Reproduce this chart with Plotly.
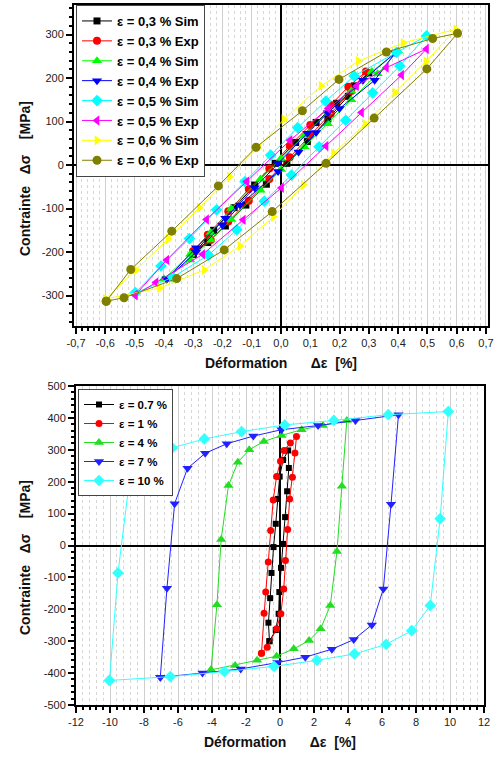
import plotly.graph_objects as go

# ---------------- upper panel : stabilised loops, 0.3 - 0.6 % ----------------
# each loop: from the compressive peak along the upper branch to the tensile
# peak, then back along the lower branch
e03_sim_x = [-0.30, -0.23, -0.16, -0.09, -0.02, 0.05, 0.12, 0.19, 0.25, 0.30,
             0.23, 0.16, 0.09, 0.02, -0.05, -0.12, -0.19, -0.25, -0.30]
e03_sim_y = [-205, -150, -98, -46, 4, 52, 98, 142, 182, 212,
             158, 106, 54, 4, -44, -92, -140, -178, -205]

e03_exp_x = [-0.30, -0.25, -0.18, -0.11, -0.04, 0.03, 0.10, 0.17, 0.23, 0.29,
             0.24, 0.17, 0.10, 0.03, -0.04, -0.11, -0.18, -0.24, -0.30]
e03_exp_y = [-198, -160, -106, -55, -8, 44, 92, 138, 180, 215,
             170, 118, 68, 18, -32, -82, -130, -172, -198]

e04_sim_x = [-0.40, -0.31, -0.24, -0.17, -0.07, 0.00, 0.08, 0.16, 0.24, 0.31, 0.40,
             0.33, 0.24, 0.16, 0.08, 0.00, -0.07, -0.17, -0.24, -0.31, -0.40]
e04_sim_y = [-262, -205, -155, -100, -32, 15, 68, 122, 170, 215, 262,
             210, 150, 95, 42, -10, -58, -125, -172, -218, -262]

e04_exp_x = [-0.39, -0.29, -0.19, -0.09, -0.01, 0.09, 0.16, 0.28, 0.39,
             0.32, 0.20, 0.12, 0.06, -0.01, -0.14, -0.20, -0.29, -0.39]
e04_exp_y = [-262, -190, -122, -52, 5, 73, 120, 195, 258,
             195, 130, 75, 30, -15, -92, -138, -200, -262]

e05_sim_x = [-0.498, -0.41, -0.313, -0.22, -0.123, -0.035, 0.057, 0.153, 0.25, 0.395, 0.497,
             0.406, 0.313, 0.221, 0.13, 0.036, -0.057, -0.151, -0.248, -0.37, -0.498]
e05_sim_y = [-294, -232, -169, -103, -38, 23, 86, 147, 205, 259, 297,
             228, 166, 103, 42, -23, -83, -149, -207, -258, -294]

e05_exp_x = [-0.498, -0.39, -0.254, -0.117, 0.031, 0.161, 0.258, 0.36, 0.497,
             0.412, 0.275, 0.154, 0.002, -0.129, -0.267, -0.427, -0.498]
e05_exp_y = [-299, -218, -125, -38, 57, 130, 182, 224, 267,
             207, 121, 44, -52, -126, -205, -270, -299]

e06_sim_x = [-0.60, -0.495, -0.385, -0.279, -0.176, -0.08, 0.01, 0.137, 0.264, 0.417, 0.597,
             0.495, 0.389, 0.287, 0.179, 0.076, -0.026, -0.14, -0.262, -0.415, -0.60]
e06_sim_y = [-308, -241, -170, -98, -27, 40, 105, 182, 239, 281, 312,
             238, 167, 94, 27, -46, -119, -186, -241, -283, -308]

e06_exp_x = [-0.597, -0.513, -0.373, -0.214, -0.085, 0.073, 0.198, 0.36, 0.518, 0.603,
             0.498, 0.318, 0.154, -0.03, -0.194, -0.356, -0.536, -0.597]
e06_exp_y = [-313, -240, -152, -48, 41, 125, 197, 260, 291, 303,
             221, 108, 4, -107, -195, -261, -305, -313]

# ---------------- lower panel : loops at 0.7 - 10 % ----------------
e07_x = [-0.62, -0.68, -0.58, -0.50, -0.38, -0.25, -0.12, -0.02, 0.18, 0.48,
         0.52, 0.42, 0.30, 0.18, 0.06, -0.04, -0.08, -0.25, -0.62]
e07_y = [-300, -242, -165, -86, -5, 68, 146, 216, 268, 298,
         243, 170, 89, 5, -70, -146, -214, -265, -300]

e1_x = [-1.09, -0.94, -0.84, -0.69, -0.55, -0.40, -0.20, 0.03, 0.24, 0.61, 0.97,
        0.88, 0.73, 0.57, 0.45, 0.32, 0.22, 0.05, -0.20, -0.75, -1.09]
e1_y = [-338, -212, -146, -52, 47, 143, 216, 264, 298, 321, 342,
        290, 214, 146, 50, -47, -136, -214, -261, -319, -338]

e4_x = [-4.06, -3.71, -3.46, -3.03, -2.48, -1.81, -0.95, 0.09, 1.27, 2.53, 3.93,
        3.64, 3.35, 2.96, 2.39, 1.71, 0.81, -0.20, -1.35, -2.64, -4.06]
e4_y = [-390, -186, 19, 188, 261, 300, 326, 345, 363, 376, 392,
        186, -19, -188, -261, -298, -324, -347, -360, -376, -390]

e7_x = [-7.04, -6.65, -6.20, -5.44, -4.40, -3.13, -1.57, 0.09, 2.24, 4.44, 6.97,
        6.53, 6.08, 5.40, 4.34, 3.05, 1.49, -0.15, -2.31, -4.56, -7.04]
e7_y = [-413, -134, 131, 242, 289, 319, 343, 363, 376, 392, 410,
        129, -136, -249, -295, -325, -350, -367, -387, -400, -413]

e10_x = [-10.03, -9.53, -8.90, -7.75, -6.34, -4.45, -2.26, 0.28, 3.17, 6.37, 9.90,
         9.42, 8.84, 7.75, 6.24, 4.38, 2.17, -0.35, -3.27, -6.45, -10.03]
e10_y = [-423, -86, 185, 265, 306, 334, 357, 378, 392, 410, 420,
         84, -188, -267, -310, -340, -360, -379, -395, -411, -423]

# ---------------- tick labels ----------------
top_x_ticks = [-0.7, -0.6, -0.5, -0.4, -0.3, -0.2, -0.1, 0.0, 0.1, 0.2, 0.3, 0.4, 0.5, 0.6, 0.7]
top_x_labels = ["-0,7", "-0,6", "-0,5", "-0,4", "-0,3", "-0,2", "-0,1", "0,0",
                "0,1", "0,2", "0,3", "0,4", "0,5", "0,6", "0,7"]
top_y_ticks = [-300, -200, -100, 0, 100, 200, 300]
top_y_labels = ["-300", "-200", "-100", "0", "100", "200", "300"]
bot_x_ticks = [-12, -10, -8, -6, -4, -2, 0, 2, 4, 6, 8, 10, 12]
bot_x_labels = ["-12", "-10", "-8", "-6", "-4", "-2", "0", "2", "4", "6", "8", "10", "12"]
bot_y_ticks = [-500, -400, -300, -200, -100, 0, 100, 200, 300, 400, 500]
bot_y_labels = ["-500", "-400", "-300", "-200", "-100", "0", "100", "200", "300", "400", "500"]

W, H = 497, 758
FONT = "Liberation Sans, Arial, sans-serif"

top_series = [
    ("ε = 0,3 % Sim", e03_sim_x, e03_sim_y, "#000000", "square", 7),
    ("ε = 0,3 % Exp", e03_exp_x, e03_exp_y, "#ff0000", "circle", 8),
    ("ε = 0,4 % Sim", e04_sim_x, e04_sim_y, "#00ff00", "triangle-up", 9),
    ("ε = 0,4 % Exp", e04_exp_x, e04_exp_y, "#0000ff", "triangle-down", 9),
    ("ε = 0,5 % Sim", e05_sim_x, e05_sim_y, "#00ffff", "diamond", 9),
    ("ε = 0,5 % Exp", e05_exp_x, e05_exp_y, "#ff00ff", "triangle-left", 9),
    ("ε = 0,6 % Sim", e06_sim_x, e06_sim_y, "#ffff00", "triangle-right", 9),
    ("ε = 0,6 % Exp", e06_exp_x, e06_exp_y, "#808000", "circle", 9),
]

bottom_series = [
    ("ε = 0.7 %", e07_x, e07_y, "#000000", "square", 6),
    ("ε = 1 %", e1_x, e1_y, "#ff0000", "circle", 7),
    ("ε = 4 %", e4_x, e4_y, "#22dd22", "triangle-up", 9),
    ("ε = 7 %", e7_x, e7_y, "#2222ff", "triangle-down", 9),
    ("ε = 10 %", e10_x, e10_y, "#33ffff", "diamond", 9),
]

fig = go.Figure()

for name, xs, ys, col, sym, sz in top_series:
    fig.add_trace(go.Scatter(
        x=xs, y=ys, name=name, mode="lines+markers",
        line=dict(color=col, width=1),
        marker=dict(color=col, symbol=sym, size=sz),
        xaxis="x", yaxis="y", legend="legend"))

for name, xs, ys, col, sym, sz in bottom_series:
    fig.add_trace(go.Scatter(
        x=xs, y=ys, name=name, mode="lines+markers",
        line=dict(color=col, width=1),
        marker=dict(color=col, symbol=sym, size=sz),
        xaxis="x2", yaxis="y2", legend="legend2"))

tickfont = dict(family=FONT, size=11, color="#222222")
titlefont = dict(family=FONT, size=14, color="#111111", weight="bold")


def xaxis_style(ticks, labels, rng, dom, minor_dt, anchor, title):
    return dict(
        domain=dom, range=rng, anchor=anchor, automargin=False,
        tickmode="array", tickvals=ticks, ticktext=labels, tickfont=tickfont,
        ticks="outside", ticklen=6, tickwidth=2, tickcolor="black",
        showline=True, mirror=True, linewidth=2, linecolor="black",
        showgrid=True, gridcolor="#cfcfcf", gridwidth=1,
        zeroline=True, zerolinecolor="black", zerolinewidth=2,
        minor=dict(dtick=minor_dt, ticks="outside", ticklen=3, tickwidth=2,
                   tickcolor="black", showgrid=True, gridcolor="#d6d6d6",
                   griddash="dot", gridwidth=1),
        title=dict(text=title, font=titlefont, standoff=10),
    )


def yaxis_style(ticks, labels, rng, dom, minor_dt, anchor):
    return dict(
        domain=dom, range=rng, anchor=anchor, automargin=False,
        tickmode="array", tickvals=ticks, ticktext=labels, tickfont=tickfont,
        ticks="outside", ticklen=6, tickwidth=2, tickcolor="black",
        showline=True, mirror=True, linewidth=2, linecolor="black",
        showgrid=False,
        zeroline=True, zerolinecolor="black", zerolinewidth=2,
        minor=dict(dtick=minor_dt, ticks="outside", ticklen=3, tickwidth=2,
                   tickcolor="black", showgrid=False),
    )


x_title = "Déformation\u00a0\u00a0\u00a0\u00a0\u00a0\u00a0Δε\u00a0\u00a0[%]"
y_title = "Contrainte\u00a0\u00a0\u00a0Δσ\u00a0\u00a0\u00a0\u00a0[MPa]"

top_xdom = [74 / W, 488 / W]
top_ydom = [(H - 326) / H, (H - 5) / H]
bot_xdom = [76 / W, 484 / W]
bot_ydom = [(H - 705) / H, (H - 386) / H]

fig.update_layout(
    width=W, height=H,
    margin=dict(l=0, r=0, t=0, b=0),
    template="none",
    paper_bgcolor="white", plot_bgcolor="white",
    xaxis=xaxis_style(top_x_ticks, top_x_labels, [-0.707, 0.707], top_xdom, 0.02, "y", x_title),
    yaxis=yaxis_style(top_y_ticks, top_y_labels, [-370, 368], top_ydom, 20, "x"),
    xaxis2=xaxis_style(bot_x_ticks, bot_x_labels, [-12, 12], bot_xdom, 0.4, "y2", x_title),
    yaxis2=yaxis_style(bot_y_ticks, bot_y_labels, [-500, 500], bot_ydom, 20, "x2"),
    legend=dict(
        x=76 / W, y=(H - 5) / H, xanchor="left", yanchor="top",
        bgcolor="white", bordercolor="#444444", borderwidth=1,
        font=dict(family=FONT, size=13, color="black", weight="bold"),
        itemwidth=30, tracegroupgap=0),
    legend2=dict(
        x=78 / W, y=(H - 389) / H, xanchor="left", yanchor="top",
        bgcolor="white", bordercolor="#444444", borderwidth=1,
        font=dict(family=FONT, size=11.5, color="black", weight="bold"),
        itemwidth=30, tracegroupgap=0),
    showlegend=True,
    annotations=[
        dict(text=y_title, textangle=-90, xref="paper", yref="paper",
             x=25 / W, y=(H - 179) / H, showarrow=False,
             font=titlefont, xanchor="center", yanchor="middle"),
        dict(text=y_title, textangle=-90, xref="paper", yref="paper",
             x=25 / W, y=(H - 558) / H, showarrow=False,
             font=titlefont, xanchor="center", yanchor="middle"),
    ],
)

fig.write_html("out.html")
